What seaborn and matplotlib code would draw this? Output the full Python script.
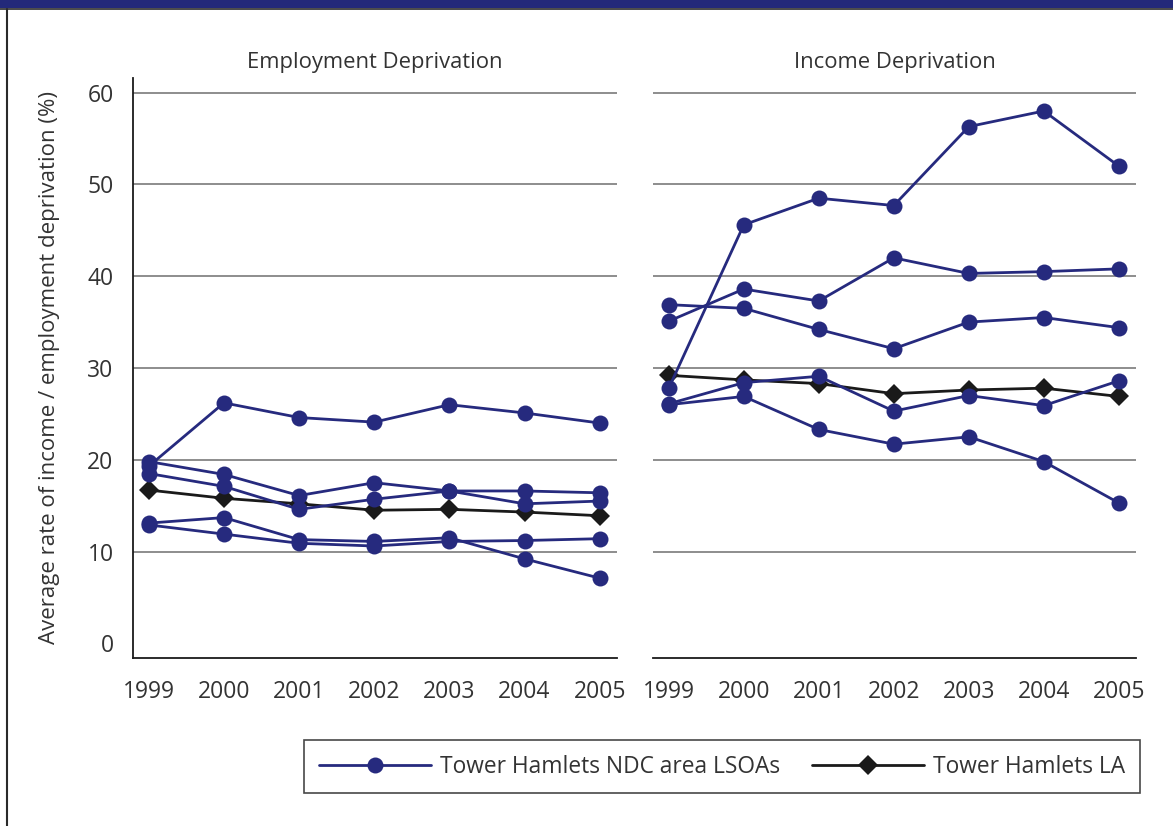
import seaborn as sns
import matplotlib.pyplot as plt
import pandas as pd
from matplotlib.lines import Line2D
from matplotlib.patches import Rectangle

# Values
years = [1999, 2000, 2001, 2002, 2003, 2004, 2005]

emp_ndc = [
    [19.3, 26.2, 24.6, 24.1, 26.0, 25.1, 24.0],
    [19.8, 18.4, 16.1, 17.5, 16.6, 16.6, 16.4],
    [18.5, 17.1, 14.6, 15.7, 16.6, 15.2, 15.5],
    [13.1, 13.7, 11.3, 11.1, 11.5, 9.2, 7.1],
    [12.9, 11.9, 10.9, 10.6, 11.1, 11.2, 11.4],
]
emp_la = [16.7, 15.8, 15.2, 14.5, 14.6, 14.3, 13.9]

inc_ndc = [
    [27.8, 45.6, 48.5, 47.7, 56.3, 58.0, 52.0],
    [35.1, 38.6, 37.3, 42.0, 40.3, 40.5, 40.8],
    [36.9, 36.5, 34.2, 32.1, 35.0, 35.5, 34.4],
    [26.1, 28.4, 29.1, 25.3, 27.0, 25.9, 28.6],
    [26.0, 26.9, 23.3, 21.7, 22.5, 19.8, 15.3],
]
inc_la = [29.2, 28.7, 28.3, 27.2, 27.6, 27.8, 26.9]

panels = ['Employment Deprivation', 'Income Deprivation']
ndc_label = 'Tower Hamlets NDC area LSOAs'
la_label = 'Tower Hamlets LA'

NAVY = '#262a7e'
DARK = '#1a1a1a'
TEXT = '#333333'


def to_long(ndc, la):
    rows = []
    for i, series in enumerate(ndc):
        for yr, v in zip(years, series):
            rows.append({'year': yr, 'value': v, 'area': f'LSOA {i + 1}', 'group': ndc_label})
    for yr, v in zip(years, la):
        rows.append({'year': yr, 'value': v, 'area': 'LA', 'group': la_label})
    return pd.DataFrame(rows)


data = {panels[0]: to_long(emp_ndc, emp_la), panels[1]: to_long(inc_ndc, inc_la)}

sns.set_style('white')
plt.rcParams['font.family'] = ['Open Sans', 'DejaVu Sans']
plt.rcParams['text.color'] = TEXT
plt.rcParams['axes.labelcolor'] = TEXT
plt.rcParams['xtick.color'] = DARK
plt.rcParams['ytick.color'] = DARK

fig = plt.figure(figsize=(11.73, 8.26), dpi=100)
ax_l = fig.add_axes([0.1134, 0.2034, 0.4126, 0.7022])
ax_r = fig.add_axes([0.5567, 0.2034, 0.4118, 0.7022])

for ax, name in zip([ax_l, ax_r], panels):
    df = data[name]
    for val in range(10, 70, 10):
        ax.axhline(val, color='#7a7a7a', lw=1.2, zorder=0)
    # LA first so the NDC markers sit on top of it
    sns.lineplot(data=df[df['group'] == la_label], x='year', y='value',
                 color=DARK, marker='D', markersize=10, markeredgewidth=0,
                 linewidth=2.0, legend=False, ax=ax)
    sns.lineplot(data=df[df['group'] == ndc_label], x='year', y='value',
                 units='area', estimator=None, color=NAVY, marker='o',
                 markersize=11.5, markeredgewidth=0, linewidth=2.0,
                 legend=False, ax=ax)
    ax.set_xlim(1998.79, 2005.23)
    ax.set_ylim(-1.6, 61.6)
    ax.set_xticks(years)
    ax.set_xticklabels([str(y) for y in years], fontsize=16.5, color=TEXT)
    ax.tick_params(axis='x', direction='out', length=8, width=1.1, pad=8)
    ax.set_xlabel('')
    ax.set_ylabel('')
    ax.set_title(name, fontsize=15.8, color=TEXT, pad=7)
    for side in ['top', 'right']:
        ax.spines[side].set_visible(False)
    ax.spines['bottom'].set_color(DARK)
    ax.spines['bottom'].set_linewidth(1.3)
    ax.spines['left'].set_color(DARK)
    ax.spines['left'].set_linewidth(1.3)

ax_l.set_yticks(range(0, 70, 10))
ax_l.set_yticklabels([str(v) for v in range(0, 70, 10)], fontsize=16.5, color=TEXT)
ax_l.tick_params(axis='y', direction='out', length=7, width=1.1, pad=7)
ax_l.set_ylabel('Average rate of income / employment deprivation (%)',
                fontsize=16, color=TEXT, labelpad=20)

ax_r.spines['left'].set_visible(False)
ax_r.set_yticks(range(0, 70, 10))
ax_r.tick_params(axis='y', left=False, labelleft=False)

# Legend box below both panels
handles = [
    Line2D([], [], color=NAVY, marker='o', markersize=11.5, markeredgewidth=0, lw=2.0),
    Line2D([], [], color=DARK, marker='D', markersize=10, markeredgewidth=0, lw=2.0),
]
leg = fig.legend(handles, [ndc_label, la_label], loc='center',
                 bbox_to_anchor=(0.6155, 0.072), ncol=2, fontsize=16.4,
                 frameon=True, fancybox=False, handlelength=4.9,
                 handletextpad=0.4, columnspacing=1.4, borderpad=0.65)
leg.get_frame().set_edgecolor(DARK)
leg.get_frame().set_linewidth(1.2)

# Header bar and left frame line
fig.patches.append(Rectangle((0, 1 - 8 / 826), 1, 8 / 826, transform=fig.transFigure,
                             facecolor='#23297a', edgecolor='none'))
fig.add_artist(Line2D([0, 1], [1 - 9 / 826, 1 - 9 / 826], transform=fig.transFigure,
                      color='#2a2a2a', lw=1.2))
fig.add_artist(Line2D([7 / 1173, 7 / 1173], [0, 1 - 9 / 826], transform=fig.transFigure,
                      color='#2a2a2a', lw=1.5))

fig.savefig('out.png', dpi=100)
